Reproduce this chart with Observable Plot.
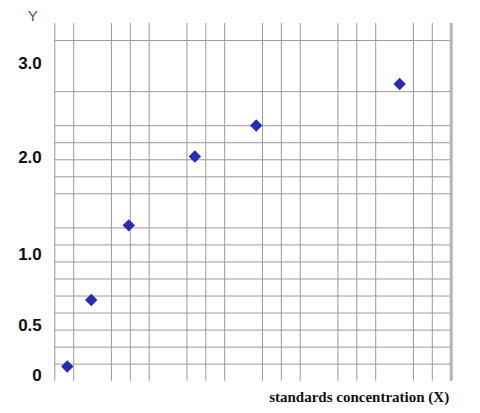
<!DOCTYPE html>
<html><head><meta charset="utf-8">
<script src="https://cdn.jsdelivr.net/npm/d3@7"></script>
<script src="https://cdn.jsdelivr.net/npm/@observablehq/plot@0.6"></script>
<style>
body{margin:0;background:#fff;}
#chart{position:relative;width:480px;height:413px;}
#chart svg{position:absolute;left:0;top:0;}
</style></head><body><div id="chart"></div>
<script>
// Data points: x in graph-paper column units (no x tick labels), y in chart units
const xValues = [0.66, 1.93, 3.92, 7.42, 10.67, 18.27];
const yValues = [0.09, 0.68, 1.30, 2.01, 2.34, 2.78];
// Y tick values and their labels (the labels sit unevenly on the graph paper)
const yTickValues = [0, 0.5, 1, 2, 3];
const yTickLabels = ["0", "0.5", "1.0", "2.0", "3.0"];
// Graph-paper rows at which each Y tick label sits
const yTickRows = [-0.66, 2.27, 6.44, 12.14, 17.66];
// Graph-paper lines (solid ones), in grid units
const gridColumns = [0, 1, 3, 4, 5, 7, 8, 9, 11, 12, 13, 15, 16, 17, 19, 20];
const gridRows = [0, 1, 2, 3, 4, 5, 6, 7, 8, 10, 11, 12, 13, 14, 16, 19];
const gridBorder = [21];
const xLabel = "standards concentration (X)";
const yLabel = "Y";

const W = 480, H = 413;
const margins = {marginTop: 23, marginBottom: 32.3, marginLeft: 54.3, marginRight: 29.3};
const valueToRow = d3.scaleLinear().domain(yTickValues).range(yTickRows);

const points = xValues.map((x, i) => ({x, y: yValues[i]}));

const grid = Plot.plot({
  width: W, height: H, ...margins,
  x: {domain: [0, 21], axis: null},
  y: {domain: [-1, 20], axis: null},
  marks: [
    Plot.ruleX(gridColumns, {stroke: "#9a9a9a", strokeWidth: 1}),
    Plot.ruleY(gridRows, {stroke: "#9a9a9a", strokeWidth: 1}),
    Plot.ruleX(gridBorder, {stroke: "#b4b4b4", strokeWidth: 3})
  ]
});

const fg = Plot.plot({
  width: W, height: H, ...margins,
  style: {background: "transparent", fontFamily: "'Liberation Sans', Arial, sans-serif"},
  x: {domain: [0, 21], axis: null},
  y: {domain: [-1, 20], axis: null},
  marks: [
    Plot.text(yTickValues, {
      y: d => valueToRow(d), text: d => yTickLabels[yTickValues.indexOf(d)],
      frameAnchor: "left", dx: -13, textAnchor: "end", lineAnchor: "middle",
      fontSize: 17, fontWeight: "bold", fill: "#111"
    }),
    Plot.dot(points, {
      x: "x", y: d => valueToRow(d.y),
      symbol: "diamond2",
      r: 5.6, fill: "#2a2ab2", stroke: "none"
    }),
    Plot.text([yLabel], {
      frameAnchor: "top-left", text: d => d,
      dx: -22, dy: -7, textAnchor: "middle", lineAnchor: "middle",
      fill: "#4a4ab8", fontSize: 15
    }),
    Plot.text([xLabel], {
      frameAnchor: "bottom-right", text: d => d,
      dx: -2, dy: 16, textAnchor: "end", lineAnchor: "middle",
      fill: "#111", fontSize: 15, fontWeight: "bold",
      fontFamily: "'Liberation Serif', 'Times New Roman', serif"
    })
  ]
});

const el = document.getElementById("chart");
el.appendChild(grid);
el.appendChild(fg);
</script>
</body></html>
